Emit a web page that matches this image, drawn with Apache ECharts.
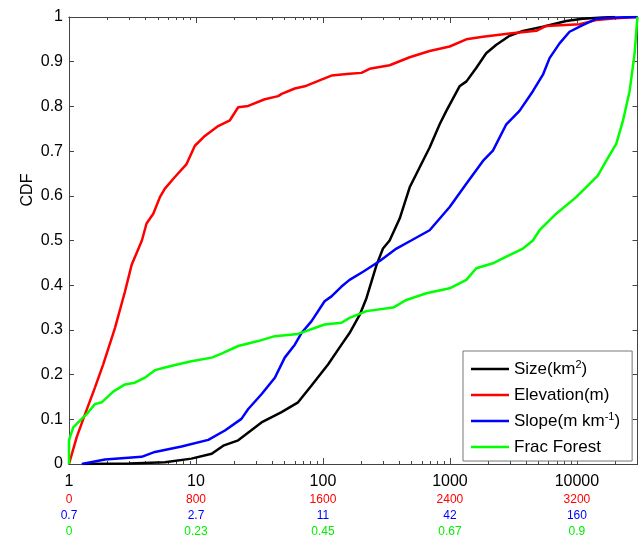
<!DOCTYPE html>
<html><head><meta charset="utf-8">
<script src="https://cdn.jsdelivr.net/npm/echarts@6/dist/echarts.min.js"></script>
<style>html,body{margin:0;padding:0;background:#fff}#c{width:641px;height:538px}</style>
</head><body><div id="c"></div><script>
// ---- data ----
const majorTicks = [1, 10, 100, 1000, 10000];
const minorTicks = [2,3,4,5,6,7,8,9,20,30,40,50,60,70,80,90,200,300,400,500,600,700,800,900,2000,3000,4000,5000,6000,7000,8000,9000,20000];
const sizeTickLabels = ['1', '10', '100', '1000', '10000'];
const elevTickLabels = ['0', '800', '1600', '2400', '3200'];
const slopeTickLabels = ['0.7', '2.7', '11', '42', '160'];
const forestTickLabels = ['0', '0.23', '0.45', '0.67', '0.9'];

const sizeX = [1.3, 3, 5.7, 9.2, 13.3, 16.4, 21.5, 32.8, 47.2, 63.7, 81, 110, 140, 162, 195, 220, 241, 264, 297, 335, 402, 482, 578, 692, 830, 937, 1190, 1350, 1610, 1930, 2320, 2950, 3760, 5400, 8240, 11100, 16000, 20000];
const sizeY = [0, 0.001, 0.004, 0.012, 0.023, 0.041, 0.053, 0.093, 0.116, 0.138, 0.175, 0.223, 0.267, 0.293, 0.334, 0.371, 0.408, 0.445, 0.482, 0.50, 0.549, 0.619, 0.664, 0.708, 0.76, 0.79, 0.845, 0.856, 0.886, 0.919, 0.938, 0.958, 0.969, 0.978, 0.991, 0.996, 0.999, 1.0];

const elevX = [1, 1.15, 1.34, 1.6, 1.86, 2.3, 2.76, 3.11, 3.75, 4.08, 4.61, 5.2, 5.69, 6.82, 8.43, 9.8, 11.75, 14.95, 18.5, 21.5, 25.8, 34.8, 44.4, 47.3, 60, 71.9, 97.3, 116.7, 162, 201, 233, 335, 482, 692, 995, 1346, 1820, 2950, 4790, 5730, 10500, 14200, 20400, 30000];
const elevY = [0, 0.06, 0.112, 0.171, 0.223, 0.304, 0.386, 0.445, 0.50, 0.538, 0.56, 0.597, 0.616, 0.642, 0.671, 0.712, 0.734, 0.756, 0.769, 0.798, 0.801, 0.816, 0.823, 0.828, 0.84, 0.845, 0.86, 0.869, 0.873, 0.875, 0.884, 0.892, 0.91, 0.924, 0.934, 0.95, 0.956, 0.963, 0.969, 0.98, 0.984, 0.993, 0.997, 1.0];

const slopeX = [1.26, 1.92, 3.73, 4.75, 7.7, 12.5, 16.9, 22.8, 25.8, 32.8, 41.8, 50, 60, 67.7, 81.1, 103, 116.7, 140, 162, 207, 280, 379, 495, 692, 995, 1346, 1820, 2180, 2780, 3530, 4500, 5400, 6090, 7300, 8750, 11100, 14200, 20400, 30000];
const slopeY = [0, 0.01, 0.016, 0.027, 0.039, 0.054, 0.075, 0.101, 0.123, 0.156, 0.193, 0.238, 0.267, 0.293, 0.319, 0.364, 0.375, 0.397, 0.412, 0.43, 0.454, 0.482, 0.50, 0.523, 0.575, 0.627, 0.678, 0.701, 0.76, 0.79, 0.834, 0.871, 0.908, 0.941, 0.967, 0.982, 0.996, 0.999, 1.0];

const forestX = [1, 1.0, 1.018, 1.08, 1.22, 1.38, 1.6, 1.81, 2.23, 2.76, 3.3, 3.96, 4.75, 5.69, 7.25, 9.2, 13.3, 15.9, 21.5, 30.9, 41.8, 63.7, 103, 140, 162, 220, 357, 454, 652, 995, 1346, 1613, 2180, 2780, 3760, 4500, 5080, 6870, 9870, 11800, 14600, 17000, 20400, 23000, 26000, 28400, 29600, 30000];
const forestY = [0, 0.053, 0.06, 0.082, 0.097, 0.112, 0.134, 0.138, 0.162, 0.178, 0.182, 0.193, 0.21, 0.216, 0.223, 0.23, 0.238, 0.247, 0.264, 0.275, 0.286, 0.291, 0.312, 0.316, 0.327, 0.342, 0.35, 0.367, 0.382, 0.393, 0.412, 0.438, 0.449, 0.464, 0.482, 0.50, 0.523, 0.56, 0.597, 0.619, 0.645, 0.678, 0.716, 0.767, 0.834, 0.916, 0.982, 1.0];

const seriesNames = ['Size', 'Elevation', 'Slope', 'Frac Forest'];
const legendTexts = ['Size(km{sup|2})', 'Elevation(m)', 'Slope(m km{sup|-1})', 'Frac Forest'];
const seriesColors = ['#000000', '#ff0000', '#0000ff', '#00ff00'];

// ---- chart ----
const FONT = '"Liberation Sans", Arial, Helvetica, sans-serif';
function zip(xs, ys) { return xs.map((x, i) => [x, ys[i]]); }
const seriesData = [zip(sizeX, sizeY), zip(elevX, elevY), zip(slopeX, slopeY), zip(forestX, forestY)];

function decadeIndex(v) {
  const l = Math.log10(v);
  const r = Math.round(l);
  if (Math.abs(l - r) > 1e-6) return -1;
  return majorTicks.indexOf(Math.pow(10, r));
}

const axisColor = '#444';
function xAxisCfg(pos, ticks, len, withLabels) {
  return {
    type: 'log', logBase: 10, min: 1, max: 30000, position: pos, gridIndex: 0,
    axisLine: { show: true, lineStyle: { color: axisColor, width: 1 } },
    axisTick: { show: true, inside: true, length: len, customValues: ticks, lineStyle: { color: axisColor, width: 1 } },
    axisLabel: withLabels ? {
      show: true, customValues: majorTicks, margin: 8, fontFamily: FONT,
      formatter: function (v) {
        const i = decadeIndex(v);
        if (i < 0) return '';
        return '{m|' + sizeTickLabels[i] + '}\n{r|' + elevTickLabels[i] + '}\n{b|' + slopeTickLabels[i] + '}\n{g|' + forestTickLabels[i] + '}';
      },
      rich: {
        m: { fontSize: 16, lineHeight: 20, color: '#000', fontFamily: FONT },
        r: { fontSize: 12, lineHeight: 16, color: '#ff0000', fontFamily: FONT },
        b: { fontSize: 12, lineHeight: 16, color: '#0000ff', fontFamily: FONT },
        g: { fontSize: 12, lineHeight: 16, color: '#00ee00', fontFamily: FONT }
      }
    } : { show: false },
    splitLine: { show: false }, minorTick: { show: false }, minorSplitLine: { show: false }
  };
}
function yAxisCfg(pos, withLabels) {
  return {
    type: 'value', min: 0, max: 1, interval: 0.1, position: pos, gridIndex: 0,
    axisLine: { show: true, lineStyle: { color: axisColor, width: 1 } },
    axisTick: { show: true, inside: true, length: 5, lineStyle: { color: axisColor } },
    axisLabel: withLabels ? { show: true, fontSize: 16, fontFamily: FONT, color: '#000', margin: 6 } : { show: false },
    splitLine: { show: false }
  };
}

const chart = echarts.init(document.getElementById('c'), null, { renderer: 'canvas' });
chart.setOption({
  animation: false,
  backgroundColor: '#fff',
  grid: { left: 69, top: 17, width: 568.5, height: 450, containLabel: false },
  xAxis: [
    xAxisCfg('bottom', majorTicks, 6, true),
    xAxisCfg('bottom', minorTicks, 3, false),
    xAxisCfg('top', majorTicks, 6, false),
    xAxisCfg('top', minorTicks, 3, false)
  ],
  yAxis: [yAxisCfg('left', true), yAxisCfg('right', false)],
  legend: {
    orient: 'vertical', left: 463, top: 351,
    padding: [8, 12, 4, 8], itemWidth: 38, itemHeight: 2.5, itemGap: 6,
    icon: 'rect',
    backgroundColor: '#fff', borderColor: '#777', borderWidth: 1, borderRadius: 0,
    selectedMode: false,
    data: seriesNames,
    formatter: function (name) { return legendTexts[seriesNames.indexOf(name)]; },
    textStyle: {
      fontSize: 17, fontFamily: FONT, color: '#000', lineHeight: 20,
      rich: { sup: { fontSize: 11, lineHeight: 20, verticalAlign: 'top', fontFamily: FONT, color: '#000' } }
    }
  },
  graphic: [{
    type: 'text', x: 28, y: 190, rotation: Math.PI / 2,
    style: { text: 'CDF', fontSize: 16, fontFamily: FONT, fill: '#000', align: 'center', verticalAlign: 'middle' }
  }],
  series: seriesNames.map((n, i) => ({
    type: 'line', name: n, data: seriesData[i], xAxisIndex: 0, yAxisIndex: 0,
    symbol: 'none', showSymbol: false, clip: true,
    lineStyle: { width: 2.5, color: seriesColors[i] }, itemStyle: { color: seriesColors[i] }
  }))
});
</script></body></html>
